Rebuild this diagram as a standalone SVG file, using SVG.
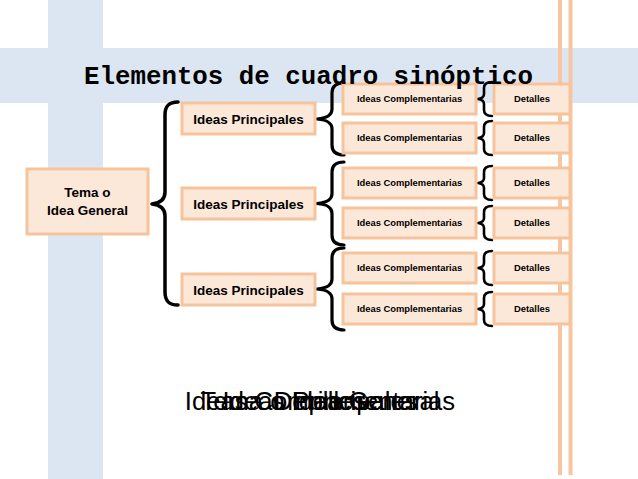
<svg xmlns="http://www.w3.org/2000/svg" width="638" height="479" viewBox="0 0 638 479">
<style>
.band{fill:#dce6f2}
.vline{stroke:#f7c59f;stroke-width:4}
.box{fill:#fce8d8;stroke:#f7c39b;stroke-width:3}
.brace{fill:none;stroke:#000;stroke-linecap:round;stroke-linejoin:round}
.t{font-family:"Liberation Sans",Arial,sans-serif;font-weight:bold;fill:#000;text-anchor:middle}
.tp{font-size:13.5px}
.ts{font-size:9.4px}
.title{font-family:"Liberation Mono","DejaVu Sans Mono",monospace;font-weight:bold;font-size:25.8px;fill:#000}
.bt{font-family:"Liberation Sans",Arial,sans-serif;font-size:25.6px;fill:#000;text-anchor:middle}
</style>
<rect width="638" height="479" fill="#fff"/>
<g id="background">
<rect class="band" x="48" y="0" width="55" height="479"/>
<rect class="band" x="0" y="48" width="638" height="55"/>
<line class="vline" x1="560" y1="0" x2="560" y2="475"/>
<line class="vline" x1="570.5" y1="0" x2="570.5" y2="475"/>
</g>
<g id="connectors">
<path class="brace" stroke-width="3.5" d="M178,102 C169,102 165,106 165,115 L165,192 C165,199 161,203 152,204 C161,205 165,209 165,216 L165,292 C165,301 169,305 178,305"/>
<path class="brace" stroke-width="3.2" d="M344,83 C336,83 332,86 332,93 L332,109 C332,115 328,118 317,119 C328,120 332,123 332,129 L332,145 C332,152 336,155 344,155"/>
<path class="brace" stroke-width="3.2" d="M344,162 C336,162 332,165 332,172 L332,193.5 C332,199.5 328,202.5 317,203.5 C328,204.5 332,207.5 332,213.5 L332,235 C332,242 336,245 344,245"/>
<path class="brace" stroke-width="3.2" d="M344,248 C336,248 332,251 332,258 L332,279 C332,285 328,288 317,289 C328,290 332,293 332,299 L332,320 C332,327 336,330 344,330"/>
<path class="brace" stroke-width="2.6" d="M492,82 C486,82 484,84 484,88 L484,94 C484,97 482,98.5 478,99 C482,99.5 484,101 484,104 L484,110 C484,114 486,116 492,116"/>
<path class="brace" stroke-width="2.6" d="M492,121 C486,121 484,123 484,127 L484,133 C484,136 482,137.5 478,138 C482,138.5 484,140 484,143 L484,149 C484,153 486,155 492,155"/>
<path class="brace" stroke-width="2.6" d="M492,166 C486,166 484,168 484,172 L484,178 C484,181 482,182.5 478,183 C482,183.5 484,185 484,188 L484,194 C484,198 486,200 492,200"/>
<path class="brace" stroke-width="2.6" d="M492,206 C486,206 484,208 484,212 L484,218 C484,221 482,222.5 478,223 C482,223.5 484,225 484,228 L484,234 C484,238 486,240 492,240"/>
<path class="brace" stroke-width="2.6" d="M492,251 C486,251 484,253 484,257 L484,263 C484,266 482,267.5 478,268 C482,268.5 484,270 484,273 L484,279 C484,283 486,285 492,285"/>
<path class="brace" stroke-width="2.6" d="M492,292 C486,292 484,294 484,298 L484,304 C484,307 482,308.5 478,309 C482,309.5 484,311 484,314 L484,320 C484,324 486,326 492,326"/>
</g>
<g id="tema">
<rect class="box" x="27" y="169" width="121" height="65"/>
<text class="t tp" x="87.5" y="197">Tema o</text>
<text class="t tp" x="87.5" y="215">Idea General</text>
</g>
<g id="ip1"><rect class="box" x="182" y="103" width="133" height="31"/><text class="t tp" x="248.5" y="123.5">Ideas Principales</text></g>
<g id="ip2"><rect class="box" x="182" y="188" width="133" height="31"/><text class="t tp" x="248.5" y="208.5">Ideas Principales</text></g>
<g id="ip3"><rect class="box" x="182" y="274" width="133" height="31"/><text class="t tp" x="248.5" y="294.5">Ideas Principales</text></g>
<g id="ic1"><rect class="box" x="343" y="84" width="133" height="30"/><text class="t ts" x="409.5" y="102.3">Ideas Complementarias</text></g>
<g id="ic2"><rect class="box" x="343" y="123" width="133" height="30"/><text class="t ts" x="409.5" y="141.3">Ideas Complementarias</text></g>
<g id="ic3"><rect class="box" x="343" y="168" width="133" height="30"/><text class="t ts" x="409.5" y="186.3">Ideas Complementarias</text></g>
<g id="ic4"><rect class="box" x="343" y="208" width="133" height="30"/><text class="t ts" x="409.5" y="226.3">Ideas Complementarias</text></g>
<g id="ic5"><rect class="box" x="343" y="253" width="133" height="30"/><text class="t ts" x="409.5" y="271.3">Ideas Complementarias</text></g>
<g id="ic6"><rect class="box" x="343" y="294" width="133" height="30"/><text class="t ts" x="409.5" y="312.3">Ideas Complementarias</text></g>
<g id="d1"><rect class="box" x="494" y="84" width="76" height="30"/><text class="t ts" x="532" y="102.3">Detalles</text></g>
<g id="d2"><rect class="box" x="494" y="123" width="76" height="30"/><text class="t ts" x="532" y="141.3">Detalles</text></g>
<g id="d3"><rect class="box" x="494" y="168" width="76" height="30"/><text class="t ts" x="532" y="186.3">Detalles</text></g>
<g id="d4"><rect class="box" x="494" y="208" width="76" height="30"/><text class="t ts" x="532" y="226.3">Detalles</text></g>
<g id="d5"><rect class="box" x="494" y="253" width="76" height="30"/><text class="t ts" x="532" y="271.3">Detalles</text></g>
<g id="d6"><rect class="box" x="494" y="294" width="76" height="30"/><text class="t ts" x="532" y="312.3">Detalles</text></g>
<g id="title"><text class="title" x="84" y="84">Elementos de cuadro sinóptico</text></g>
<g id="overlay-text">
<text class="bt" x="320" y="410">Ideas Complementarias</text>
<text class="bt" x="320" y="410">Tema o Idea General</text>
<text class="bt" x="320" y="410">Ideas Principales</text>
<text class="bt" x="320" y="410">Detalles</text>
</g>
</svg>
